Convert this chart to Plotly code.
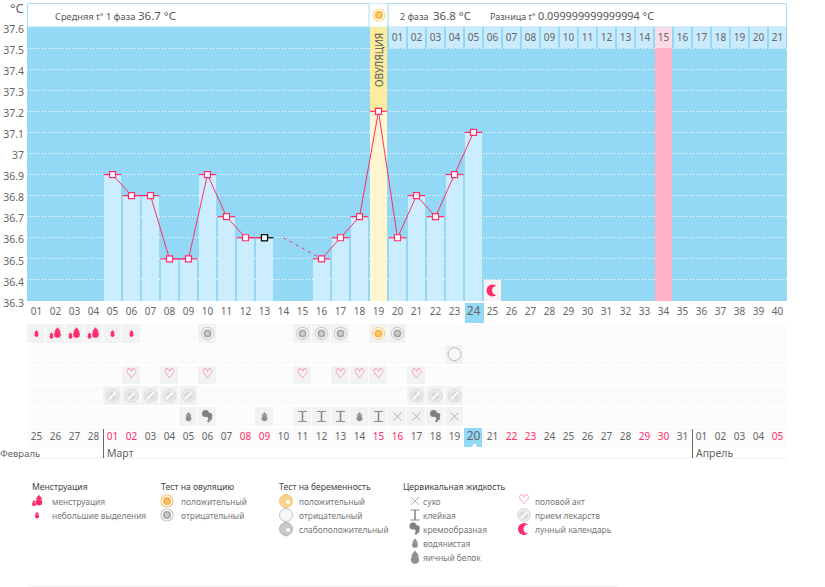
import plotly.graph_objects as go

W, H = 825, 587
FONT = "Noto Sans"
PINK = "#ff2d6b"
SKY = "#93d8f5"
PALE = "#ccedfe"
GREY_TXT = "#666666"
ICON = "#8f8f8f"

temp_days = [5, 6, 7, 8, 9, 10, 11, 12, 13, 16, 17, 18, 19, 20, 21, 22, 23, 24]
temp_values = [36.9, 36.8, 36.8, 36.5, 36.5, 36.9, 36.7, 36.6, 36.6, 36.5, 36.6, 36.7, 37.2, 36.6, 36.8, 36.7, 36.9, 37.1]
gap_days = [14, 16]
gap_values = [36.6, 36.5]
ovulation_day = 19
period_day = 34
moon_day = 25
today = 24
cycle_days = list(range(1, 41))
phase2_days = list(range(20, 41))
phase2_labels = [f"{i:02d}" for i in range(1, 22)]
y_ticks = [36.3, 36.4, 36.5, 36.6, 36.7, 36.8, 36.9, 37, 37.1, 37.2, 37.3, 37.4, 37.5, 37.6]
y_labels = ["36.3", "36.4", "36.5", "36.6", "36.7", "36.8", "36.9", "37", "37.1", "37.2", "37.3", "37.4", "37.5", "37.6"]
date_labels = ["25", "26", "27", "28"] + [f"{i:02d}" for i in range(1, 32)] + [f"{i:02d}" for i in range(1, 6)]
weekend_days = [5, 6, 12, 13, 19, 20, 26, 27, 33, 34, 40]

menses_small = [1, 5, 6]
menses_large = [2, 3, 4]
ovu_neg = [10, 15, 16, 17, 20]
ovu_pos = [19]
preg_neg = [23]
sex_days = [6, 8, 10, 15, 17, 18, 19, 21]
pill_days = [5, 6, 7, 8, 9, 21, 22, 23]
fluid_water = [9, 13, 18]
fluid_cream = [10, 22]
fluid_sticky = [15, 16, 17, 19]
fluid_dry = [20, 21, 23]

fig = go.Figure()


def xp(px):
    return px / W


def yp(px):
    return 1 - px / H


AX = dict(x="x3", y="y3", ux=1, uy=1)
ROW = dict(x="x2", y="y2", ux=19.0, uy=20.75)
MAIN = dict(x="x", y="y", ux=19.0, uy=-274 / 1.3)


def mk(a, xs, ys, dx=0, dy=0, **m):
    fig.add_trace(go.Scatter(
        x=[v + dx / a["ux"] for v in xs], y=[v + dy / a["uy"] for v in ys], mode="markers",
        marker=m, xaxis=a["x"], yaxis=a["y"], hoverinfo="skip", showlegend=False, cliponaxis=False))


def tx(a, xs, ys, s, color, size, family=FONT, dx=0, dy=0, weight="normal"):
    fig.add_trace(go.Scatter(
        x=[v + dx / a["ux"] for v in xs], y=[v + dy / a["uy"] for v in ys], mode="text",
        text=[s] * len(xs), textfont=dict(color=color, size=size, family=family, weight=weight), textposition="middle center",
        xaxis=a["x"], yaxis=a["y"], hoverinfo="skip", showlegend=False, cliponaxis=False))


def drop(a, xs, ys, color, s=1.0, dx=0, dy=0):
    mk(a, xs, ys, dx=dx, dy=dy - 2 * s, symbol="triangle-up", size=5.5 * s, color=color, line=dict(width=0))
    mk(a, xs, ys, dx=dx, dy=dy + 2 * s, symbol="circle", size=6 * s, color=color, line=dict(width=0))


def ring(a, xs, ys, outer, c1, c2):
    mk(a, xs, ys, symbol="circle", size=12, color="#ffffff", line=dict(color=outer, width=1.2))
    mk(a, xs, ys, symbol="circle", size=8, color=c1, gradient=dict(type="radial", color=c2), line=dict(width=0))


def pill(a, xs, ys):
    mk(a, xs, ys, symbol="circle", size=13, color="#f4f4f4", gradient=dict(type="radial", color="#c6c6c6"),
       line=dict(color="#cfcfcf", width=0.8))
    mk(a, xs, ys, symbol="line-ne", size=6, line=dict(color="#ffffff", width=2))


def bubble(a, xs, ys, fill, edge, dot=None):
    mk(a, xs, ys, dy=5, symbol="triangle-down", size=6, color=edge, line=dict(width=0))
    mk(a, xs, ys, symbol="circle", size=13, color=fill, line=dict(color=edge, width=1))
    if dot:
        mk(a, xs, ys, dx=2, dy=1, symbol="circle", size=4, color=dot, line=dict(width=0))


def heart(a, xs, ys):
    tx(a, xs, ys, "♡", PINK, 13, family="DejaVu Sans", weight="bold")


def cream(a, xs, ys):
    c = "#808080"
    mk(a, xs, ys, dx=-2, dy=-3, symbol="circle", size=7, color=c, line=dict(width=0))
    mk(a, xs, ys, dx=2, dy=-1, symbol="circle", size=5.5, color=c, line=dict(width=0))
    mk(a, xs, ys, dx=2.5, dy=2, symbol="circle", size=4, color=c, line=dict(width=0))
    mk(a, xs, ys, dx=1, dy=4.5, symbol="circle", size=2.5, color=c, line=dict(width=0))


def sticky(a, xs, ys):
    c = "#8a8a8a"
    mk(a, xs, ys, symbol="line-ns", size=7, line=dict(color=c, width=1.6))
    mk(a, xs, ys, dy=-5, symbol="line-ew", size=6.4, line=dict(color=c, width=1))
    mk(a, xs, ys, dy=5, symbol="line-ew", size=6.4, line=dict(color=c, width=1))


def dry(a, xs, ys):
    mk(a, xs, ys, symbol="x-thin", size=8, line=dict(color="#909090", width=0.7))


def moon(a, xs, ys, bg):
    mk(a, xs, ys, symbol="circle", size=12, color=PINK, line=dict(width=0))
    mk(a, xs, ys, dx=4, symbol="circle", size=9, color=bg, line=dict(width=0))


# ---- temperature chart -------------------------------------------------
colors = ["#fff6cf" if d == ovulation_day else PALE for d in temp_days]
fig.add_trace(go.Bar(x=temp_days, y=[v - 36.3 for v in temp_values], base=36.3, width=0.94, marker=dict(color=colors, line=dict(width=0)),
                     hoverinfo="skip", showlegend=False))
fig.add_trace(go.Bar(x=[ovulation_day], y=[37.6 - temp_values[temp_days.index(ovulation_day)]],
                     base=temp_values[temp_days.index(ovulation_day)], width=0.94,
                     marker=dict(color="#fdeb9e", line=dict(width=0)), hoverinfo="skip", showlegend=False))
fig.add_trace(go.Bar(x=[period_day], y=[1.2], base=36.3, width=0.94, marker=dict(color="#ffb1c8", line=dict(width=0)),
                     hoverinfo="skip", showlegend=False))
fig.add_trace(go.Bar(x=phase2_days, y=[0.1] * len(phase2_days), base=37.5, width=0.94,
                     marker=dict(color=["#fbdce6" if d == period_day else "#c9ebfd" for d in phase2_days], line=dict(width=0)),
                     hoverinfo="skip", showlegend=False))
fig.add_trace(go.Bar(x=[moon_day], y=[0.1], base=36.3, width=0.94, marker=dict(color="#f8f3f5", line=dict(width=0)),
                     hoverinfo="skip", showlegend=False))

line_x, line_y = [], []
for i, (d, v) in enumerate(zip(temp_days, temp_values)):
    if i and d - temp_days[i - 1] > 1:
        line_x.append(None)
        line_y.append(None)
    line_x.append(d)
    line_y.append(v)
fig.add_trace(go.Scatter(x=gap_days, y=gap_values, mode="lines", line=dict(color=PINK, width=1, dash="3px,4px"),
                         hoverinfo="skip", showlegend=False))
last = temp_days.index(13)
minus = [0.47] * len(temp_days)
plus = [0.0 if d == 13 else 0.47 for d in temp_days]
fig.add_trace(go.Scatter(x=line_x, y=line_y, mode="lines", line=dict(color=PINK, width=1), hoverinfo="skip", showlegend=False))
fig.add_trace(go.Scatter(x=temp_days, y=temp_values, mode="markers",
                         marker=dict(symbol="square", size=6, color="#ffffff",
                                     line=dict(color=["#000000" if d == 13 else PINK for d in temp_days], width=1.2)),
                         error_x=dict(type="data", array=plus, arrayminus=minus, color=PINK, thickness=1.2, width=0),
                         hoverinfo="skip", showlegend=False))
fig.add_trace(go.Scatter(x=[13], y=[temp_values[last]], mode="markers", marker=dict(symbol="square", size=6, color="#ffffff", line=dict(color="#000000", width=1.2)),
                         error_x=dict(type="data", array=[0.47], arrayminus=[0], color="#000000", thickness=1.2, width=0),
                         hoverinfo="skip", showlegend=False))
fig.add_trace(go.Scatter(x=phase2_days, y=[37.545] * len(phase2_days), mode="text", text=phase2_labels,
                         textfont=dict(size=10, color=GREY_TXT, family=FONT), hoverinfo="skip", showlegend=False))
moon(MAIN, [moon_day], [36.35], "#f8f3f5")

# ---- daily rows --------------------------------------------------------
rows = [menses_small + menses_large + ovu_neg + ovu_pos, preg_neg, sex_days, pill_days,
        fluid_water + fluid_cream + fluid_sticky + fluid_dry]
z = [[1 if d in r else 0 for d in cycle_days] for r in rows]
z.append([2 if d == today else 0 for d in cycle_days])
fig.add_trace(go.Heatmap(x=cycle_days, y=[1, 2, 3, 4, 5, 6], z=z, zmin=0, zmax=2, xgap=1, ygap=2, showscale=False,
                         colorscale=[[0, "#fbfbfb"], [0.5, "#f2f2f2"], [1, SKY]], hoverinfo="skip", xaxis="x2", yaxis="y2"))

drop(ROW, menses_small, [1] * len(menses_small), PINK, 0.7)
drop(ROW, menses_large, [1] * len(menses_large), PINK, 1.1, dx=2, dy=-1)
drop(ROW, menses_large, [1] * len(menses_large), PINK, 0.65, dx=-4, dy=2)
ring(ROW, ovu_neg, [1] * len(ovu_neg), "#cccccc", "#9a9a9a", "#dcdcdc")
ring(ROW, ovu_pos, [1] * len(ovu_pos), "#f9d78f", "#f5ae3c", "#fbd777")
bubble(ROW, preg_neg, [2] * len(preg_neg), "#f7f7f7", "#bcbcbc")
heart(ROW, sex_days, [3] * len(sex_days))
pill(ROW, pill_days, [4] * len(pill_days))
drop(ROW, fluid_water, [5] * len(fluid_water), ICON, 0.95)
cream(ROW, fluid_cream, [5] * len(fluid_cream))
sticky(ROW, fluid_sticky, [5] * len(fluid_sticky))
dry(ROW, fluid_dry, [5] * len(fluid_dry))

fig.add_trace(go.Scatter(x=cycle_days, y=[6] * len(cycle_days), mode="text", text=date_labels,
                         textfont=dict(size=[12 if d == today else 10 for d in cycle_days],
                                       color=[PINK if d in weekend_days else GREY_TXT for d in cycle_days], family=FONT),
                         xaxis="x2", yaxis="y2", hoverinfo="skip", showlegend=False))

# ---- overlay axis: header icon and legend keys ---------------------------
ring(AX, [379], [15], "#f9d98f", "#f5ae3c", "#fbd777")
mk(AX, [474.5], [446], symbol="triangle-up", size=6, color="#ffffff", line=dict(width=0))

drop(AX, [39], [500], PINK, 1.1)
drop(AX, [34], [503], PINK, 0.65)
drop(AX, [37], [515], PINK, 0.7)
ring(AX, [167], [501], "#f5c878", "#f3ae4a", "#f9c768")
ring(AX, [167], [515], "#c8c8c8", "#9a9a9a", "#dcdcdc")
bubble(AX, [286], [501], "#f8d48a", "#f5c878", "#ffffff")
bubble(AX, [286], [515], "#f7f7f7", "#c4c4c4")
bubble(AX, [286], [529], "#c8c8c8", "#b5b5b5", "#ffffff")
dry(AX, [415], [501])
sticky(AX, [415], [515])
cream(AX, [415], [529])
drop(AX, [415], [543], ICON, 0.95)
drop(AX, [415], [557], ICON, 1.35)
heart(AX, [524], [501])
pill(AX, [524], [515])
moon(AX, [524], [529], "#ffffff")

ann = []


def note(x, y, s, size=8.4, color="#777777", anchor="left", **kw):
    ann.append(dict(x=x, y=y, xref="x3", yref="y3", text=s, showarrow=False, xanchor=anchor, yanchor="middle",
                    font=dict(size=size, color=color, family=FONT), **kw))


note(53, 16, "Средняя t° 1 фаза", 9.3, "#555555")
note(136, 15, "36.7 °C", 11.5, "#555555")
note(398, 16, "2 фаза", 9, "#555555")
note(431, 15, "36.8 °C", 11.5, "#555555")
note(488, 16, "Разница t°", 9, "#555555")
note(536, 15, "0.099999999999994 °C", 10.8, "#555555")
note(17, 8, "°C", 13, GREY_TXT, anchor="center")
note(379, 60, "ОВУЛЯЦИЯ", 10, "#555555", anchor="center", textangle=-90)
note(42, 453, "Февраль", 9.5, GREY_TXT, anchor="right")
note(105, 453, "Март", 10.5, GREY_TXT)
note(694, 453, "Апрель", 10.5, GREY_TXT)

for x, s in [(30, "Менструация"), (159, "Тест на овуляцию"), (277, "Тест на беременность"), (401, "Цервикальная жидкость")]:
    note(x, 487, s, 8.6, "#444444")
for x, y, s in [(50, 501, "менструация"), (50, 515, "небольшие выделения"),
                (179, 501, "положительный"), (179, 515, "отрицательный"),
                (297, 501, "положительный"), (297, 515, "отрицательный"), (297, 529, "слабоположительный"),
                (421, 501, "сухо"), (421, 515, "клейкая"), (421, 529, "кремообразная"), (421, 543, "водянистая"),
                (421, 557, "яичный белок"), (533, 501, "половой акт"), (533, 515, "прием лекарств"), (533, 529, "лунный календарь")]:
    note(x, y, s, 8.4, "#777777")


def box(x0, y0, x1, y1, line=None, fill=None, width=1):
    return dict(type="rect", xref="paper", yref="paper", x0=xp(x0), x1=xp(x1), y0=yp(y0), y1=yp(y1),
                line=dict(color=line or "rgba(0,0,0,0)", width=width), fillcolor=fill or "rgba(0,0,0,0)", layer="below")


def hline(x0, x1, y, color, width=1):
    return dict(type="line", xref="paper", yref="paper", x0=xp(x0), x1=xp(x1), y0=yp(y), y1=yp(y), line=dict(color=color, width=width), layer="above")


def vline(x, y0, y1, color):
    return dict(type="line", xref="paper", yref="paper", x0=xp(x), x1=xp(x), y0=yp(y0), y1=yp(y1), line=dict(color=color, width=1), layer="above")


shapes = [
    box(27, 27, 787, 301, fill=SKY),
    box(27.5, 3.5, 369, 27, "#a8dff6"),
    box(369, 3.5, 388, 27, "#cdeefb"),
    box(388, 3.5, 786.5, 27, "#a8dff6"),
    box(465, 303, 484, 323, fill=SKY),
    hline(27, 787, 458, "#eeeeee"),
    hline(27, 617, 586, "#eeeeee"),
    vline(103.5, 429, 458, "#666666"),
    vline(692.5, 429, 458, "#666666"),
]

day_ticks = [f"<span style='font-size:12px'>{d:02d}</span>" if d == today else f"{d:02d}" for d in cycle_days]

fig.update_layout(
    width=W, height=H, margin=dict(l=0, r=0, t=0, b=0, pad=0, autoexpand=False), paper_bgcolor="#ffffff", plot_bgcolor="rgba(0,0,0,0)",
    barmode="overlay", bargap=0, showlegend=False, annotations=ann, shapes=shapes,
    xaxis=dict(domain=[xp(27), xp(787)], range=[0.5, 40.5], tickmode="array", tickvals=cycle_days,
               ticktext=day_ticks, tickfont=dict(size=10, color=GREY_TXT, family=FONT), ticklabelstandoff=3,
               ticklen=0, showgrid=False, zeroline=False, showline=False, tickangle=0, fixedrange=True),
    yaxis=dict(domain=[yp(301), yp(27)], range=[36.3, 37.6], tickmode="array", tickvals=y_ticks, ticktext=y_labels,
               tickfont=dict(size=10.5, color=GREY_TXT, family=FONT), ticklen=0, showgrid=True, gridcolor="#ffffff",
               griddash="1px,2px", gridwidth=1, zeroline=False, showline=False, fixedrange=True, ticklabelshift=2, ticklabelstandoff=2),
    xaxis2=dict(domain=[xp(27), xp(787)], range=[0.5, 40.5], anchor="y2", visible=False, fixedrange=True),
    yaxis2=dict(domain=[yp(447.6), yp(323)], range=[6.5, 0.5], anchor="x2", visible=False, fixedrange=True),
    xaxis3=dict(domain=[0, 1], range=[0, W], anchor="y3", visible=False, fixedrange=True),
    yaxis3=dict(domain=[0, 1], range=[H, 0], anchor="x3", visible=False, fixedrange=True),
)
fig.write_html("out.html", config=dict(displayModeBar=False),
               post_script="document.body.style.margin='0';document.body.style.overflow='hidden';")
